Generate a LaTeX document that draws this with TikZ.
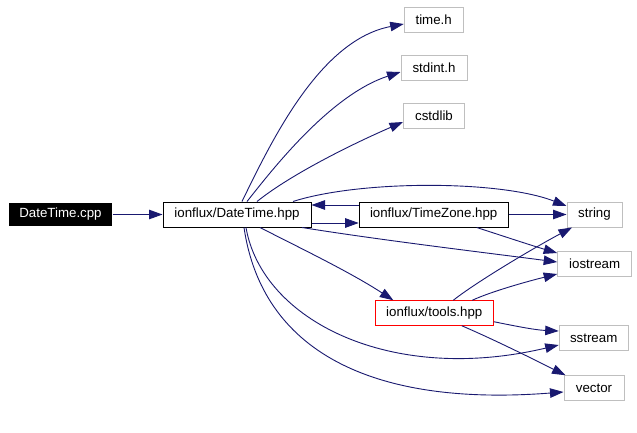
\documentclass[tikz,border=0pt]{standalone}
\usepackage{fontspec}
\setmainfont{Liberation Sans}
\usetikzlibrary{arrows.meta}
\definecolor{edgeblue}{RGB}{25,25,112}
\definecolor{leafgray}{RGB}{191,191,191}
\begin{document}
\begin{tikzpicture}[x=1pt,y=-1pt,
  every node/.style={font=\fontsize{13.3}{15}\selectfont, inner sep=0pt, line width=1pt},
  leaf/.style={draw=leafgray, fill=white, rectangle},
  hdr/.style={draw=black, fill=white, rectangle},
  edge/.style={draw=edgeblue, line width=0.9pt, -{Triangle[length=13.5pt,width=9.5pt]}, arrows={[fill=edgeblue]}}
]
\useasboundingbox[fill=white] (0,0) rectangle (637,432);
% nodes
\node[fill=black, text=white, minimum width=103pt, minimum height=23pt] (cpp) at (60.5,214.5) {DateTime.cpp};
\node[hdr, minimum width=148pt, minimum height=25pt] (dh) at (237,214.5) {ionflux/DateTime.hpp};
\node[hdr, minimum width=149pt, minimum height=25pt] (tz) at (433.7,214.5) {ionflux/TimeZone.hpp};
\node[draw=red, fill=white, minimum width=118pt, minimum height=24.5pt] (tl) at (434.3,313) {ionflux/tools.hpp};
\node[leaf, minimum width=55pt, minimum height=25pt] (str) at (594.5,214.5) {string};
\node[leaf, minimum width=74pt, minimum height=25.5pt] (io) at (594.7,264) {iostream};
\node[leaf, minimum width=69pt, minimum height=25pt] (ss) at (593.7,338.3) {sstream};
\node[leaf, minimum width=60pt, minimum height=24.5pt] (vc) at (594,388) {vector};
\node[leaf, minimum width=59pt, minimum height=25pt] (th) at (433.7,19.8) {time.h};
\node[leaf, minimum width=66pt, minimum height=24.5pt] (si) at (434,68) {stdint.h};
\node[leaf, minimum width=61pt, minimum height=25pt] (cs) at (434,116) {cstdlib};
% edges
\draw[edge] (cpp) -- (dh);
\draw[edge] ([xshift=5pt]dh.north) .. controls (272,140) and (320,40) .. ([yshift=-4.2pt]th.west);
\draw[edge] ([xshift=10pt]dh.north) .. controls (272,170) and (330,95) .. ([yshift=-4pt]si.west);
\draw[edge] ([xshift=20pt]dh.north) .. controls (290,175) and (350,145) .. ([yshift=-6pt]cs.west);
\draw[edge] ([xshift=56pt]dh.north) .. controls (360,180) and (500,180) .. ([yshift=8.5pt]str.west);
\draw[edge] ([yshift=9.5pt]tz.west) -- ([yshift=9.5pt]dh.east);
\draw[edge] ([yshift=-8.5pt]dh.east) -- ([yshift=-8.5pt]tz.west);
\draw[edge] (tz) -- (str);
\draw[edge] ([xshift=43pt]tz.south) .. controls (500,235) and (530,245) .. ([yshift=11pt]io.west);
\draw[edge] ([xshift=65pt]dh.south) .. controls (380,240) and (480,252) .. ([yshift=2pt]io.west);
\draw[edge] ([xshift=23pt]dh.south) .. controls (300,248) and (350,272) .. ([xshift=-41pt]tl.north);
\draw[edge] ([xshift=19pt]tl.north) .. controls (475,283) and (530,250) .. ([xshift=-22.5pt]str.south);
\draw[edge] ([xshift=38pt]tl.north) .. controls (490,292) and (525,282) .. ([yshift=-10pt]io.west);
\draw[edge] ([yshift=-8.7pt]tl.east) .. controls (515,326) and (535,330) .. ([yshift=7.3pt]ss.west);
\draw[edge] ([xshift=27.5pt]tl.south) .. controls (495,340) and (535,360) .. ([xshift=2pt]vc.north west);
\draw[edge] ([xshift=9pt]dh.south) .. controls (262,320) and (390,385) .. ([yshift=-6.7pt]ss.west);
\draw[edge] ([xshift=7pt]dh.south) .. controls (262,350) and (370,407) .. ([yshift=-4pt]vc.west);
\end{tikzpicture}
\end{document}
